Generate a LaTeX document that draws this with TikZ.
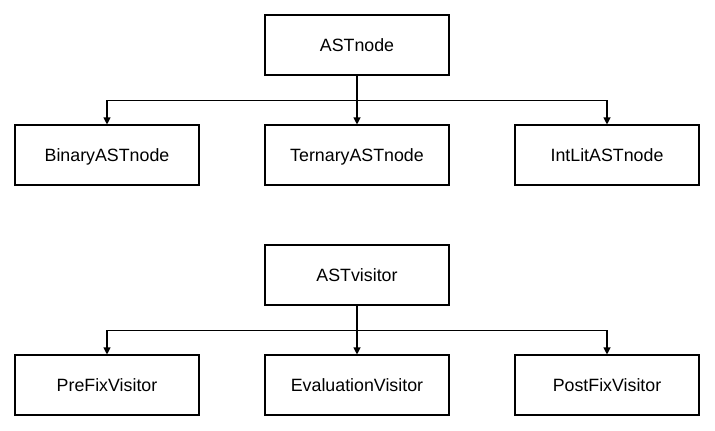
\documentclass[tikz,border=0pt]{standalone}
\usepackage{fontspec}
\setmainfont{Liberation Sans}
\usetikzlibrary{arrows.meta}
\begin{document}
\begin{tikzpicture}[x=1pt,y=-1pt,
  box/.style={draw=black,line width=1.1pt,minimum width=184pt,minimum height=60pt,inner sep=0pt,text height=12.8pt,text depth=0pt,font=\fontsize{17.8}{21}\selectfont},
  conn/.style={line width=1.1pt,-{Triangle[length=7pt,width=7pt]}}]
\useasboundingbox (0,0) rectangle (715,431);
\node[box] (ast) at (357,45) {ASTnode};
\node[box] (bin) at (107,155) {BinaryASTnode};
\node[box] (ter) at (357,155) {TernaryASTnode};
\node[box] (int) at (607,155) {IntLitASTnode};
\node[box] (vis) at (357,275) {ASTvisitor};
\node[box] (pre) at (107,385) {PreFixVisitor};
\node[box] (eva) at (357,385) {EvaluationVisitor};
\node[box] (pos) at (607,385) {PostFixVisitor};
\draw[conn] (ast.south) -- (ter.north);
\draw[conn] (ast.south) -- ++(0,25) -| (bin.north);
\draw[conn] (ast.south) -- ++(0,25) -| (int.north);
\draw[conn] (vis.south) -- (eva.north);
\draw[conn] (vis.south) -- ++(0,25) -| (pre.north);
\draw[conn] (vis.south) -- ++(0,25) -| (pos.north);
\end{tikzpicture}
\end{document}
